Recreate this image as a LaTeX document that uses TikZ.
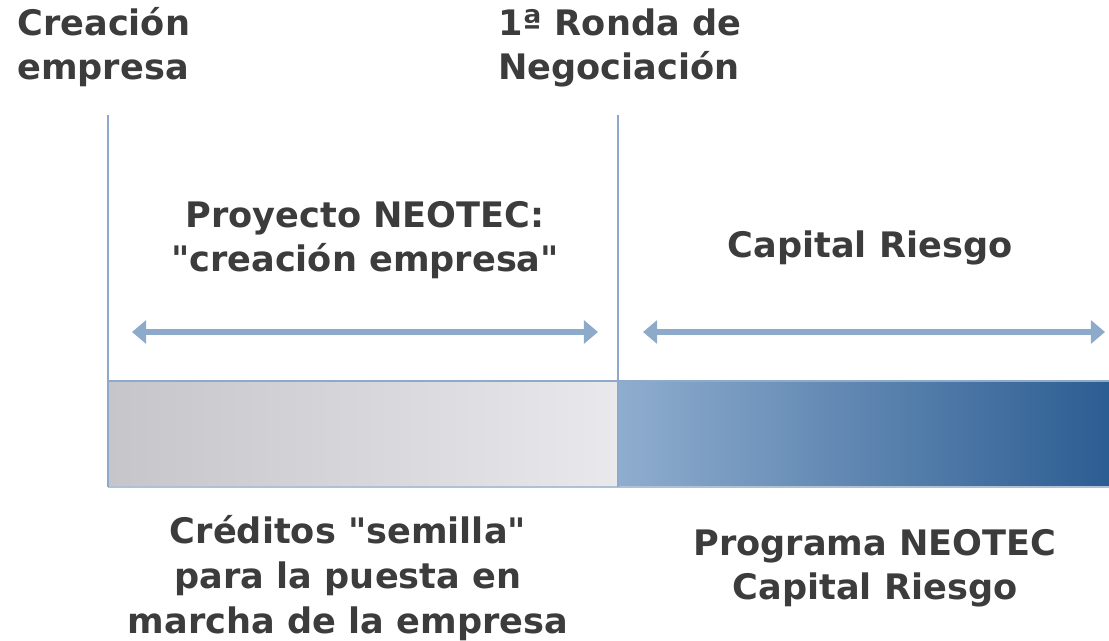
\documentclass[tikz,border=0pt]{standalone}
\usepackage{fontspec}
\setmainfont{DejaVu Sans}
\newfontfamily\rectas{DejaVu Sans}
\usetikzlibrary{arrows.meta}
\definecolor{linea}{HTML}{8DAACB}
\definecolor{bordeinf}{HTML}{AFC1D6}
\definecolor{texto}{HTML}{3C3C3C}
\definecolor{grisA}{HTML}{C5C5CA}
\definecolor{grisB}{HTML}{E9E9EC}
\definecolor{azulA}{HTML}{8FADCE}
\definecolor{azulB}{HTML}{2C5D92}
\newcommand{\cq}{{\rectas\bfseries"}}
\tikzset{
	etiqueta/.style={text=texto, font=\bfseries\fontsize{20}{25.5}\selectfont, inner sep=0pt},
	divisor/.style={linea, line width=1.2pt},
	flecha/.style={linea, line width=3.2pt}
}

\begin{document}
\begin{tikzpicture}[x=0.02cm, y=-0.02cm, >={Triangle[length=8pt,width=13pt]}]
				\useasboundingbox (0,0) rectangle (1109,641);
% Barras de fondo
				\shade[left color=grisA, right color=grisB] (108,381) rectangle (618,487);
				\shade[left color=azulA, right color=azulB] (618,381) rectangle (1109,487);
				\draw[bordeinf, line width=1.2pt] (108,487) -- (1109,487);
% Lineas divisorias
				\coordinate (izqA) at (108,115);
				\coordinate (izqB) at (108,487);
				\coordinate (medA) at (618,115);
				\coordinate (medB) at (618,487);
				\coordinate (barI) at (108,381);
				\coordinate (barD) at (1109,381);
				\draw[divisor] (izqA) -- (izqB);
				\draw[divisor] (medA) -- (medB);
				\draw[divisor] (barI) -- (barD);
% Flechas de las fases
				\coordinate (f1a) at (132,332);
				\coordinate (f1b) at (598,332);
				\coordinate (f2a) at (643,332);
				\coordinate (f2b) at (1105,332);
				\draw[flecha, <->] (f1a) -- (f1b);
				\draw[flecha, <->] (f2a) -- (f2b);
% Hitos (base = ultima linea)
				\node[etiqueta, anchor=base west, align=left] (creacion) at (17,80) {Creación\\empresa};
				\node[etiqueta, anchor=base west, align=left] (ronda) at (498,80) {1ª Ronda de\\Negociación};
% Fases
				\node[etiqueta, anchor=base, align=center] (neotec) at (365,272) {Proyecto NEOTEC:\\\cq creación empresa\cq};
				\node[etiqueta, anchor=base, align=center] (riesgo) at (870,258) {Capital Riesgo};
% Financiacion
				\node[etiqueta, anchor=base, align=center] (semilla) at (348,633) {Créditos \cq semilla\cq\\para la puesta en\\marcha de la empresa};
				\node[etiqueta, anchor=base, align=center] (programa) at (875,600) {Programa NEOTEC\\Capital Riesgo};
\end{tikzpicture}
\end{document}
